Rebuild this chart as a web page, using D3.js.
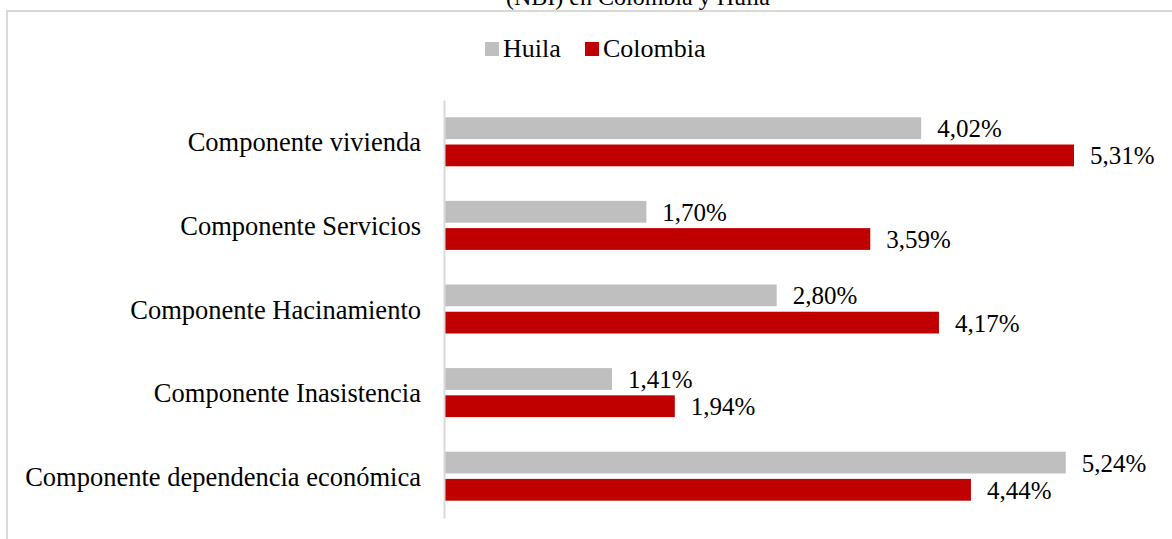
<!DOCTYPE html>
<html>
<head>
<meta charset="utf-8">
<script src="https://cdn.jsdelivr.net/npm/d3@7"></script>
<style>
  html, body { margin: 0; padding: 0; background: #fff; overflow: hidden; }
  svg text { font-family: "Liberation Serif", "Times New Roman", Times, serif !important; }
</style>
</head>
<body>
<div id="chart"></div>
<script>
// data
const categories = [
    "Componente vivienda",
    "Componente Servicios",
    "Componente Hacinamiento",
    "Componente Inasistencia",
    "Componente dependencia económica"
];
const seriesNames = ["Huila", "Colombia"];
const huilaValues = [4.02, 1.70, 2.80, 1.41, 5.24];
const colombiaValues = [5.31, 3.59, 4.17, 1.94, 4.44];
const titleText = "(NBI) en Colombia y Huila";

const colors = { "Huila": "#bfbfbf", "Colombia": "#c00000" };

const width = 1172, height = 539;

const rows = categories.map((c, i) => ({
    category: c,
    values: [
        { series: "Huila", value: huilaValues[i] },
        { series: "Colombia", value: colombiaValues[i] }
    ]
}));

const svg = d3.select("#chart")
    .append("svg")
    .attr("width", width)
    .attr("height", height)
    .style("display", "block");

// chart frame (runs off the right and bottom edge)
svg.append("rect")
    .attr("x", 7)
    .attr("y", 11)
    .attr("width", 1300)
    .attr("height", 700)
    .attr("fill", "none")
    .attr("stroke", "#d9d9d9")
    .attr("stroke-width", 2);

// title, mostly cut off at the top like in the source
svg.append("text")
    .attr("x", 638)
    .attr("y", 5)
    .attr("text-anchor", "middle")
    .attr("font-size", 24)
    .text(titleText);

const x = d3.scaleLinear()
    .domain([0, 5.31])
    .range([445, 1074]);

const y0 = d3.scaleBand()
    .domain(categories)
    .range([100, 518])
    .paddingInner(0.414)
    .paddingOuter(0.207);

const y1 = d3.scaleBand()
    .domain(seriesNames)
    .range([0, y0.bandwidth()])
    .paddingInner(0.2);

const groups = svg.append("g")
    .selectAll("g")
    .data(rows)
    .join("g")
    .attr("transform", d => `translate(0,${y0(d.category)})`);

groups.selectAll("rect")
    .data(d => d.values)
    .join("rect")
    .attr("x", x(0))
    .attr("y", d => y1(d.series))
    .attr("width", d => x(d.value) - x(0))
    .attr("height", y1.bandwidth())
    .attr("fill", d => colors[d.series]);

groups.selectAll("text.val")
    .data(d => d.values)
    .join("text")
    .attr("class", "val")
    .attr("x", d => x(d.value) + 16)
    .attr("y", d => y1(d.series) + y1.bandwidth() / 2)
    .attr("dy", "0.36em")
    .attr("font-size", 25)
    .attr("fill", "#000")
    .text(d => d.value.toFixed(2).replace(".", ",") + "%");

// category axis
const yAxis = svg.append("g")
    .attr("transform", `translate(${x(0) - 1},0)`)
    .call(d3.axisLeft(y0).tickSize(0).tickPadding(23));

yAxis.select(".domain")
    .attr("stroke", "#d9d9d9")
    .attr("stroke-width", 2);

yAxis.selectAll("text")
    .attr("font-size", 26.5)
    .attr("fill", "#000")
    .attr("dy", "0.36em");

// legend
const legend = svg.append("g").attr("transform", "translate(485,42)");
const legendX = [0, 100];
seriesNames.forEach((s, i) => {
    const item = legend.append("g").attr("transform", `translate(${legendX[i]},0)`);
    item.append("rect")
        .attr("width", 14)
        .attr("height", 14)
        .attr("fill", colors[s]);
    item.append("text")
        .attr("x", 18)
        .attr("y", 15)
        .attr("font-size", 26)
        .text(s);
});
</script>
</body>
</html>
